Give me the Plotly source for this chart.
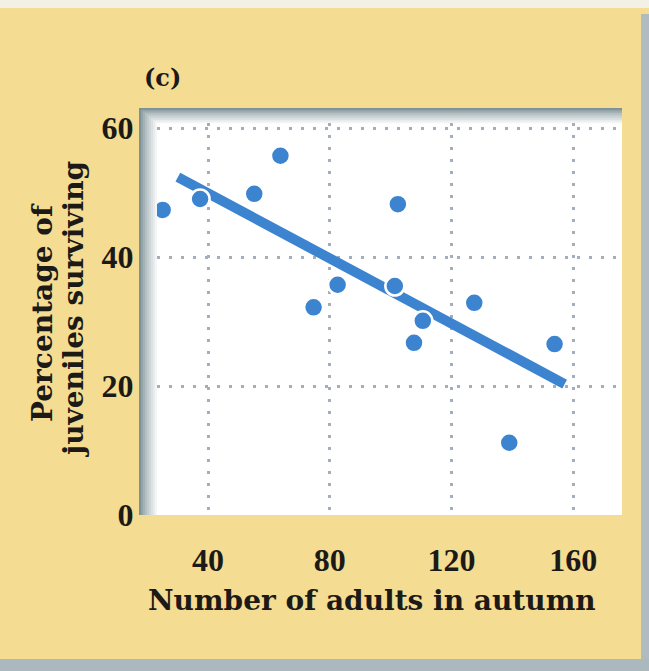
import plotly.graph_objects as go

# Juvenile survival vs. autumn adult density
adults = [25.1, 37.4, 55.2, 63.8, 74.7, 82.6, 102.4, 101.4, 110.6, 107.7, 127.5, 153.9, 139.0]
survival = [47.3, 49.0, 49.8, 55.7, 32.2, 35.7, 48.2, 35.5, 30.1, 26.7, 32.9, 26.5, 11.2]

# Fitted regression line endpoints
fit_x = [30.1, 157.2]
fit_y = [52.4, 20.3]

x_ticks = [40, 80, 120, 160]
y_ticks = [0, 20, 40, 60]

W, H = 649, 671
L, R, T, B = 157, 620, 123, 515  # plot area edges in pixels
BLUE = "#3c84cf"
PANEL = "#f4dc93"
TICK_FONT = "Liberation Serif"
TEXT_FONT = "DejaVu Serif"
INK = "#1c1a17"

fig = go.Figure()

fig.add_trace(go.Scatter(
    x=fit_x, y=fit_y, mode="lines",
    line=dict(color=BLUE, width=10),
    hoverinfo="skip", showlegend=False,
))
fig.add_trace(go.Scatter(
    x=adults, y=survival, mode="markers",
    marker=dict(size=19, color=BLUE, line=dict(color="white", width=2.5)),
    showlegend=False,
))


# paper coordinates are relative to the plot area
def px(x):
    return (x - L) / (R - L)


def py(y):
    return (B - y) / (B - T)


shapes = []
# framing strips around the panel
shapes.append(dict(type="rect", xref="paper", yref="paper", layer="below",
                   x0=px(0), x1=px(W), y0=py(8), y1=py(0), fillcolor="#f3f1e6", line_width=0))
shapes.append(dict(type="rect", xref="paper", yref="paper", layer="below",
                   x0=px(641), x1=px(W), y0=py(H), y1=py(14), fillcolor="#aebcc0", line_width=0))
shapes.append(dict(type="rect", xref="paper", yref="paper", layer="below",
                   x0=px(0), x1=px(W), y0=py(H), y1=py(659), fillcolor="#abb9be", line_width=0))

# soft shadow along the top and left of the plot area, fading into white
outer = (125, 145, 150)
inner = (255, 255, 255)
steps = 9
for i in range(steps + 1):
    t = (i / steps) ** 0.8
    c = tuple(int(round(outer[k] + (inner[k] - outer[k]) * t)) for k in range(3))
    shapes.append(dict(
        type="rect", xref="paper", yref="paper", layer="below",
        x0=px(139 + 2 * i), x1=px(622), y0=py(B), y1=py(108 + 1.7 * i),
        fillcolor="rgb(%d,%d,%d)" % c, line_width=0,
    ))

grid = dict(showgrid=True, gridcolor="#a3aebc", gridwidth=2.5, griddash="2.5px,9.5px",
            zeroline=False, showline=False, ticks="outside", tickcolor="rgba(0,0,0,0)",
            tickfont=dict(family=TICK_FONT, size=32, color=INK, weight="bold"))

fig.update_layout(
    width=W, height=H, autosize=False,
    margin=dict(l=L, r=W - R, t=T, b=H - B, pad=0),
    paper_bgcolor=PANEL,
    plot_bgcolor="rgba(0,0,0,0)",
    shapes=shapes,
    font=dict(family=TEXT_FONT, color=INK),
    xaxis=dict(range=[23.24, 175.4], tickvals=x_ticks,
               ticktext=[str(v) for v in x_ticks], ticklen=17, **grid),
    yaxis=dict(range=[0, 60.78], tickvals=y_ticks,
               ticktext=[str(v) for v in y_ticks], ticklen=16, **grid),
    annotations=[
        dict(text="<b>(c)</b>", xref="paper", yref="paper",
             x=px(162), y=py(77), xanchor="center", yanchor="middle",
             showarrow=False, font=dict(family=TEXT_FONT, size=24, color=INK)),
        dict(text="<b>Number of adults in autumn</b>", xref="paper", yref="paper",
             x=px(372), y=py(600), xanchor="center", yanchor="middle",
             showarrow=False, font=dict(family=TEXT_FONT, size=28, color=INK)),
        dict(text="<b>Percentage of</b>", xref="paper", yref="paper",
             x=px(42), y=py(313), xanchor="center", yanchor="middle", textangle=-90,
             showarrow=False, font=dict(family=TEXT_FONT, size=28, color=INK)),
        dict(text="<b>juveniles surviving</b>", xref="paper", yref="paper",
             x=px(73), y=py(310), xanchor="center", yanchor="middle", textangle=-90,
             showarrow=False, font=dict(family=TEXT_FONT, size=28, color=INK)),
    ],
)

fig.write_html("out.html")
